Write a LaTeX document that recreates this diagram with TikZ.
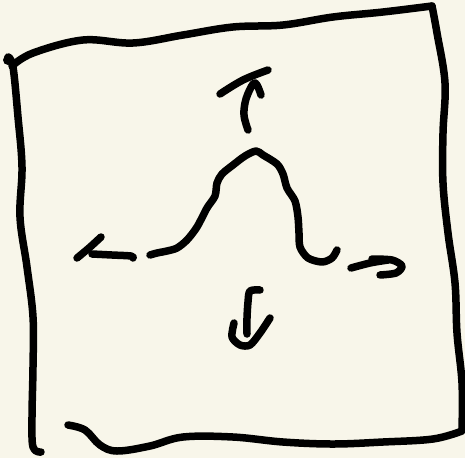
\documentclass[tikz,border=0pt]{standalone}
\definecolor{paper}{HTML}{F8F6EA}
\tikzset{ink/.style={line width=7.5pt, line cap=round, line join=round, black}}
\begin{document}
\begin{tikzpicture}[x=1pt,y=-1pt]
\fill[paper] (0,0) rectangle (465,458);
\useasboundingbox (0,0) rectangle (465,458);
% frame
\draw[ink] plot[smooth, tension=0.6] coordinates {(12,66) (33,53) (83,40) (133,43) (183,35) (233,27) (283,25) (333,17) (383,12) (432,6)};
\draw[ink] plot[smooth, tension=0.6] coordinates {(432,6) (437,33) (445,83) (443,133) (443,183) (448,233) (455,283) (457,333) (462,383) (462,430)};
\draw[ink] plot[smooth, tension=0.6] coordinates {(68,425) (85,430) (100,445) (117,451) (150,446) (183,437) (233,437) (283,442) (333,444) (383,442) (433,439) (462,431)};
\draw[ink] plot[smooth, tension=0.6] coordinates {(8,57) (13,67) (18,117) (22,167) (20,217) (27,267) (33,317) (33,367) (32,417) (33,447) (41,452)};
\fill (8,60) circle (5pt);
% up arrow
\draw[ink] plot[smooth, tension=0.6] coordinates {(220,94) (243,80) (268,70)};
\draw[ink] plot[smooth, tension=0.6] coordinates {(248,130) (244,115) (246,99) (253,84) (257,85) (261,95)};
% bell curve
\draw[ink] plot[smooth, tension=0.5] coordinates {(150,255) (157,253) (167,251) (177,248) (187,240) (197,227) (207,208) (215,196) (217,183) (222,174) (233,165) (245,156) (256,151) (263,155) (277,164) (283,174) (287,188) (295,201) (298,217) (299,233) (300,247) (308,258) (322,262) (332,258) (337,250)};
% left arrow
\draw[ink] plot[smooth, tension=0.5] coordinates {(133,258) (131,256) (112,255) (92,254)};
\draw[ink] plot[smooth, tension=0.5] coordinates {(101,237) (89,248) (77,258)};
% right arrow
\draw[ink] plot[smooth, tension=0.5] coordinates {(351,268) (370,263) (388,260)};
\draw[ink] plot[smooth, tension=0.5] coordinates {(372,259) (392,260) (402,266) (396,273) (380,275)};
% down arrow
\draw[ink] plot[smooth, tension=0.5] coordinates {(260,290) (250,291) (248,302) (247,318) (247,334)};
\draw[ink] plot[smooth, tension=0.5] coordinates {(234,323) (232,337) (240,345) (250,345) (260,333) (270,318)};
\end{tikzpicture}
\end{document}
